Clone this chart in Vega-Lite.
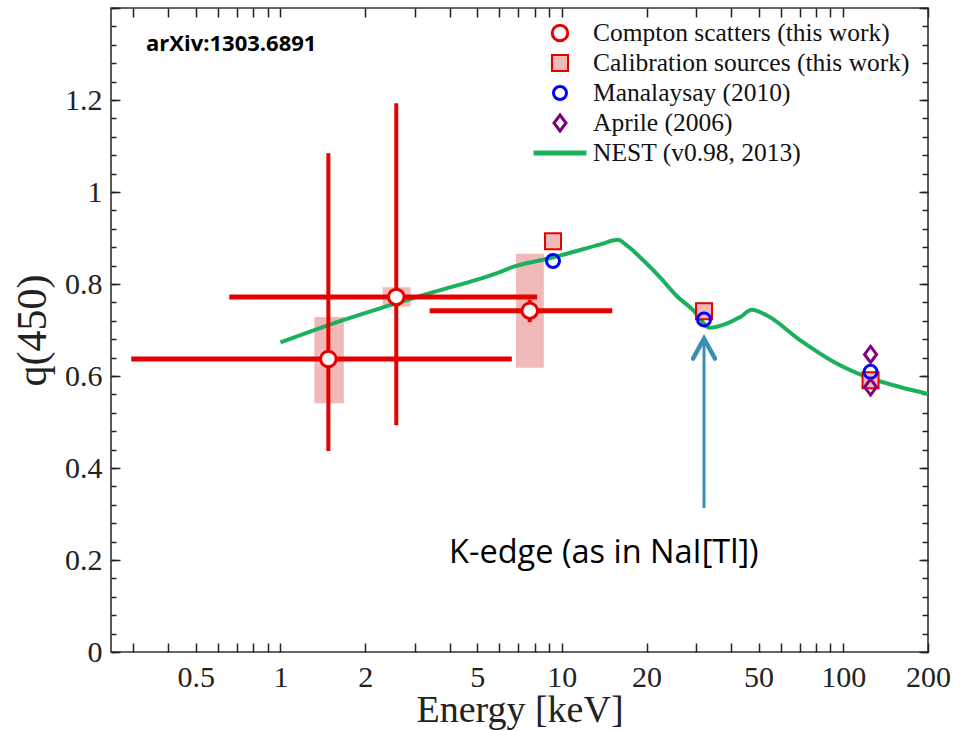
{
  "$schema": "https://vega.github.io/schema/vega-lite/v6.json",
  "width": 817,
  "height": 644,
  "autosize": {"type": "none"},
  "padding": {"left": 111, "top": 8, "right": 33, "bottom": 79},
  "background": "white",
  "config": {
    "view": {"stroke": "#333333", "strokeWidth": 1.6},
    "axis": {"grid": false, "domain": false, "tickColor": "#222222", "tickWidth": 1.5, "labelFont": "Liberation Serif", "labelFontSize": 30, "labelColor": "#222222", "titleFont": "Liberation Serif", "titleFontSize": 38, "titleFontWeight": "normal", "titleColor": "#222222", "labelFlush": false, "labelOverlap": false, "labelBound": false},
    "legend": {"labelFont": "Liberation Serif", "labelFontSize": 25.5, "labelColor": "#111111", "labelLimit": 500, "padding": 0, "clipHeight": 24, "rowPadding": 4, "labelOffset": 4, "symbolOffset": 0}
  },
  "resolve": {"axis": {"x": "independent", "y": "independent"}},
  "datasets": {
    "compton": [
      {"E": 1.48, "q": 0.637, "Elo": 0.295, "Ehi": 6.64, "qlo": 0.437, "qhi": 1.084, "bxlo": 1.32, "bxhi": 1.68, "bqlo": 0.541, "bqhi": 0.728},
      {"E": 2.58, "q": 0.772, "Elo": 0.658, "Ehi": 8.17, "qlo": 0.493, "qhi": 1.193, "bxlo": 2.31, "bxhi": 2.9, "bqlo": 0.751, "bqhi": 0.793},
      {"E": 7.69, "q": 0.742, "Elo": 3.39, "Ehi": 15.1, "qlo": 0.717, "qhi": 0.765, "bxlo": 6.87, "bxhi": 8.63, "bqlo": 0.618, "bqhi": 0.866}
    ],
    "nest": [
      {"E": 1.0, "q": 0.673}, {"E": 1.66, "q": 0.721}, {"E": 2.31, "q": 0.749}, {"E": 3.39, "q": 0.78},
      {"E": 6.02, "q": 0.826}, {"E": 6.7, "q": 0.837}, {"E": 9.06, "q": 0.856}, {"E": 13.7, "q": 0.886},
      {"E": 15.8, "q": 0.896}, {"E": 17.0, "q": 0.884}, {"E": 19.5, "q": 0.851}, {"E": 22.3, "q": 0.815},
      {"E": 25.5, "q": 0.775}, {"E": 29.3, "q": 0.743}, {"E": 33.6, "q": 0.705}, {"E": 38.5, "q": 0.714},
      {"E": 43.0, "q": 0.728}, {"E": 47.3, "q": 0.744}, {"E": 53.4, "q": 0.732}, {"E": 70.2, "q": 0.678},
      {"E": 92.3, "q": 0.631}, {"E": 121, "q": 0.598}, {"E": 159, "q": 0.576}, {"E": 200, "q": 0.561}
    ],
    "points": [
      {"series": "Compton scatters (this work)", "E": 1.48, "q": 0.637},
      {"series": "Compton scatters (this work)", "E": 2.58, "q": 0.772},
      {"series": "Compton scatters (this work)", "E": 7.69, "q": 0.742},
      {"series": "Calibration sources (this work)", "E": 9.3, "q": 0.893},
      {"series": "Calibration sources (this work)", "E": 32.0, "q": 0.741},
      {"series": "Calibration sources (this work)", "E": 125, "q": 0.591},
      {"series": "Manalaysay (2010)", "E": 9.3, "q": 0.85},
      {"series": "Manalaysay (2010)", "E": 32.0, "q": 0.723},
      {"series": "Manalaysay (2010)", "E": 125, "q": 0.609},
      {"series": "Aprile (2006)", "E": 125, "q": 0.647},
      {"series": "Aprile (2006)", "E": 125, "q": 0.576}
    ]
  },
  "layer": [
    {
      "data": {"name": "compton"},
      "mark": {"type": "rect", "color": "#f2b9b9"},
      "encoding": {
        "x": {"field": "bxlo", "type": "quantitative", "scale": {"type": "log", "domain": [0.25, 200], "nice": false},
          "axis": {"orient": "bottom", "values": [0.3,0.4,0.5,0.6,0.7,0.8,0.9,1,2,3,4,5,6,7,8,9,10,20,30,40,50,60,70,80,90,100,200], "tickSize": -9, "labels": false, "title": null}},
        "x2": {"field": "bxhi"},
        "y": {"field": "bqlo", "type": "quantitative", "scale": {"domain": [0, 1.4], "nice": false, "zero": false},
          "axis": {"orient": "left", "values": [0,0.04,0.08,0.12,0.16,0.2,0.24,0.28,0.32,0.36,0.4,0.44,0.48,0.52,0.56,0.6,0.64,0.68,0.72,0.76,0.8,0.84,0.88,0.92,0.96,1,1.04,1.08,1.12,1.16,1.2,1.24,1.28,1.32,1.36,1.4], "tickSize": -5, "labels": false, "title": null}},
        "y2": {"field": "bqhi"}
      }
    },
    {
      "data": {"name": "nest"},
      "mark": {"type": "line", "color": "#19b15b", "strokeWidth": 4, "interpolate": "monotone"},
      "encoding": {
        "x": {"field": "E", "type": "quantitative", "scale": {"type": "log", "domain": [0.25, 200], "nice": false},
          "axis": {"orient": "bottom", "values": [0.5,1,2,5,10,20,50,100,200], "ticks": false, "labelPadding": 10, "format": "~g", "title": "Energy [keV]", "titleY": 69, "titleBaseline": "alphabetic"}},
        "y": {"field": "q", "type": "quantitative", "scale": {"domain": [0, 1.4], "nice": false, "zero": false},
          "axis": {"orient": "left", "values": [0,0.2,0.4,0.6,0.8,1,1.2,1.4], "tickSize": -9, "labels": false, "title": null}}
      }
    },
    {
      "data": {"name": "compton"},
      "mark": {"type": "rule", "color": "#e60000", "strokeWidth": 5},
      "encoding": {
        "x": {"field": "Elo", "type": "quantitative", "scale": {"type": "log", "domain": [0.25, 200], "nice": false},
          "axis": {"orient": "top", "values": [0.3,0.4,0.5,0.6,0.7,0.8,0.9,1,2,3,4,5,6,7,8,9,10,20,30,40,50,60,70,80,90,100,200], "tickSize": -9, "labels": false, "title": null}},
        "x2": {"field": "Ehi"},
        "y": {"field": "q", "type": "quantitative", "scale": {"domain": [0, 1.4], "nice": false, "zero": false},
          "axis": {"orient": "left", "values": [0,0.2,0.4,0.6,0.8,1,1.2], "ticks": false, "labelPadding": 9, "format": ".2~f", "title": "q(450)", "titleFontSize": 42, "titleAngle": -90, "titleX": -66, "titleY": 322, "titleAlign": "center", "titleBaseline": "alphabetic"}}
      }
    },
    {
      "data": {"name": "compton"},
      "mark": {"type": "rule", "color": "#e60000", "strokeWidth": 4},
      "encoding": {
        "x": {"field": "E", "type": "quantitative", "scale": {"type": "log", "domain": [0.25, 200], "nice": false}, "axis": null},
        "y": {"field": "qlo", "type": "quantitative", "scale": {"domain": [0, 1.4], "nice": false, "zero": false},
          "axis": {"orient": "right", "values": [0,0.04,0.08,0.12,0.16,0.2,0.24,0.28,0.32,0.36,0.4,0.44,0.48,0.52,0.56,0.6,0.64,0.68,0.72,0.76,0.8,0.84,0.88,0.92,0.96,1,1.04,1.08,1.12,1.16,1.2,1.24,1.28,1.32,1.36,1.4], "tickSize": -6, "labels": false, "title": null}},
        "y2": {"field": "qhi"}
      }
    },
    {
      "data": {"name": "points"},
      "mark": {"type": "point", "filled": true, "opacity": 1},
      "encoding": {
        "x": {"field": "E", "type": "quantitative", "scale": {"type": "log", "domain": [0.25, 200], "nice": false}, "axis": null},
        "y": {"field": "q", "type": "quantitative", "scale": {"domain": [0, 1.4], "nice": false, "zero": false},
          "axis": {"orient": "right", "values": [0,0.2,0.4,0.6,0.8,1,1.2,1.4], "tickSize": -9, "labels": false, "title": null}},
        "shape": {"field": "series", "type": "nominal",
          "scale": {"domain": ["Compton scatters (this work)", "Calibration sources (this work)", "Manalaysay (2010)", "Aprile (2006)", "NEST (v0.98, 2013)"], "range": ["circle", "square", "circle", "M0,-1L0.75,0L0,1L-0.75,0Z", "M-1,0L1,0"]},
          "legend": {"orient": "none", "legendX": 420, "legendY": 13, "title": null}},
        "stroke": {"field": "series", "type": "nominal",
          "scale": {"domain": ["Compton scatters (this work)", "Calibration sources (this work)", "Manalaysay (2010)", "Aprile (2006)", "NEST (v0.98, 2013)"], "range": ["#e60000", "#e60000", "#0000ff", "#800080", "#19b15b"]},
          "legend": {"orient": "none", "legendX": 420, "legendY": 13, "title": null}},
        "fill": {"field": "series", "type": "nominal",
          "scale": {"domain": ["Compton scatters (this work)", "Calibration sources (this work)", "Manalaysay (2010)", "Aprile (2006)", "NEST (v0.98, 2013)"], "range": ["#ffffff", "#f2b9b9", "transparent", "transparent", "transparent"]},
          "legend": {"orient": "none", "legendX": 420, "legendY": 13, "title": null}},
        "size": {"field": "series", "type": "nominal",
          "scale": {"type": "ordinal", "domain": ["Compton scatters (this work)", "Calibration sources (this work)", "Manalaysay (2010)", "Aprile (2006)", "NEST (v0.98, 2013)"], "range": [240, 256, 169, 256, 2809]},
          "legend": {"orient": "none", "legendX": 420, "legendY": 13, "title": null}},
        "strokeWidth": {"field": "series", "type": "nominal",
          "scale": {"type": "ordinal", "domain": ["Compton scatters (this work)", "Calibration sources (this work)", "Manalaysay (2010)", "Aprile (2006)", "NEST (v0.98, 2013)"], "range": [3, 2, 3, 3, 5]},
          "legend": {"orient": "none", "legendX": 420, "legendY": 13, "title": null}}
      }
    },
    {
      "data": {"values": [{"E": 32.0, "q1": 0.313, "q2": 0.681}]},
      "mark": {"type": "rule", "color": "#3790b2", "strokeWidth": 3},
      "encoding": {
        "x": {"field": "E", "type": "quantitative", "scale": {"type": "log", "domain": [0.25, 200], "nice": false}, "axis": null},
        "y": {"field": "q1", "type": "quantitative", "scale": {"domain": [0, 1.4], "nice": false, "zero": false}, "axis": null},
        "y2": {"field": "q2"}
      }
    },
    {
      "data": {"values": [{"E": 32.0, "q": 0.681}]},
      "mark": {"type": "point", "shape": "M-1,1.8L0,0L1,1.8", "filled": false, "opacity": 1, "stroke": "#3790b2", "strokeWidth": 4.5, "size": 484, "strokeCap": "round", "strokeJoin": "miter"},
      "encoding": {
        "x": {"field": "E", "type": "quantitative", "scale": {"type": "log", "domain": [0.25, 200], "nice": false}, "axis": null},
        "y": {"field": "q", "type": "quantitative", "scale": {"domain": [0, 1.4], "nice": false, "zero": false}, "axis": null}
      }
    },
    {
      "data": {"values": [{"E": 14.1, "q": 0.194, "label": "K-edge (as in NaI[Tl])"}]},
      "mark": {"type": "text", "font": "Open Sans", "fontSize": 32.5, "color": "#000000", "align": "center", "baseline": "alphabetic"},
      "encoding": {
        "x": {"field": "E", "type": "quantitative", "scale": {"type": "log", "domain": [0.25, 200], "nice": false}, "axis": null},
        "y": {"field": "q", "type": "quantitative", "scale": {"domain": [0, 1.4], "nice": false, "zero": false}, "axis": null},
        "text": {"field": "label"}
      }
    },
    {
      "data": {"values": [{"E": 0.333, "q": 1.3056, "label": "arXiv:1303.6891"}]},
      "mark": {"type": "text", "font": "Open Sans", "fontWeight": "bold", "fontSize": 22, "color": "#000000", "align": "left", "baseline": "alphabetic"},
      "encoding": {
        "x": {"field": "E", "type": "quantitative", "scale": {"type": "log", "domain": [0.25, 200], "nice": false}, "axis": null},
        "y": {"field": "q", "type": "quantitative", "scale": {"domain": [0, 1.4], "nice": false, "zero": false}, "axis": null},
        "text": {"field": "label"}
      }
    }
  ]
}
